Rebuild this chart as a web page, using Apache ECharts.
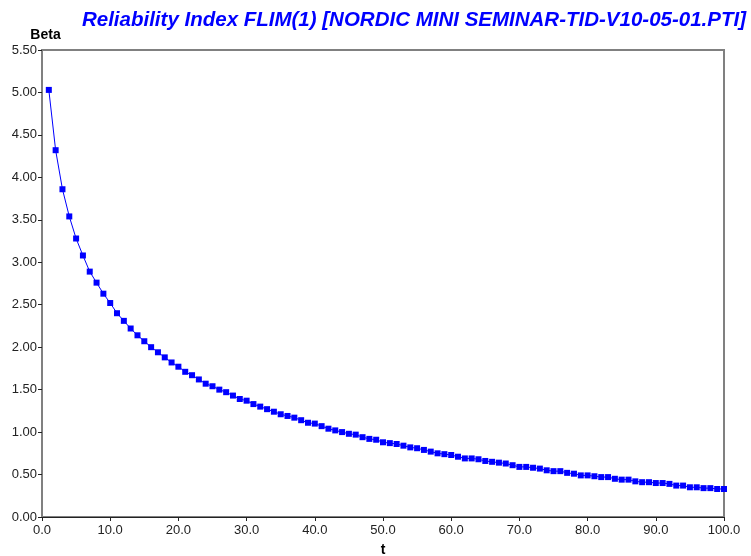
<!DOCTYPE html>
<html>
<head>
<meta charset="utf-8">
<script src="https://cdn.jsdelivr.net/npm/echarts@6/dist/echarts.min.js"></script>
<style>html,body{margin:0;padding:0;background:#fff;}#c{width:751px;height:556px;}</style>
</head>
<body>
<div id="c"></div>
<script>
const titleText = "Reliability Index FLIM(1) [NORDIC MINI SEMINAR-TID-V10-05-01.PTI]";
const xName = "t";
const yName = "Beta";
const tValues = [];
for (let i = 1; i <= 100; i++) tValues.push(i);
const betaValues = [
  5.03, 4.32, 3.86, 3.54, 3.28, 3.08, 2.89, 2.76, 2.63, 2.52,
  2.40, 2.31, 2.22, 2.14, 2.07, 2.00, 1.94, 1.88, 1.82, 1.77,
  1.71, 1.67, 1.62, 1.57, 1.54, 1.50, 1.47, 1.43, 1.39, 1.37,
  1.33, 1.30, 1.27, 1.24, 1.21, 1.19, 1.17, 1.14, 1.11, 1.10,
  1.07, 1.04, 1.02, 1.00, 0.98, 0.97, 0.94, 0.92, 0.91, 0.88,
  0.87, 0.86, 0.84, 0.82, 0.81, 0.79, 0.77, 0.75, 0.74, 0.73,
  0.71, 0.69, 0.69, 0.68, 0.66, 0.65, 0.64, 0.63, 0.61, 0.59,
  0.59, 0.58, 0.57, 0.55, 0.54, 0.54, 0.52, 0.51, 0.49, 0.49,
  0.48, 0.47, 0.47, 0.45, 0.44, 0.44, 0.42, 0.41, 0.41, 0.40,
  0.40, 0.39, 0.37, 0.37, 0.35, 0.35, 0.34, 0.34, 0.33, 0.33
];
const data = tValues.map((t, i) => [t, betaValues[i]]);

const chart = echarts.init(document.getElementById('c'), null, {renderer: 'canvas'});
chart.setOption({
  animation: false,
  backgroundColor: '#ffffff',
  textStyle: {fontFamily: 'Liberation Sans, Arial, sans-serif'},
  title: {
    text: titleText,
    right: 0, top: 5,
    textStyle: {color: '#0000ff', fontSize: 20.5, fontWeight: 'bold', fontStyle: 'italic', fontFamily: 'Liberation Sans, Arial, sans-serif'}
  },
  grid: {left: 42, right: 27, top: 50, bottom: 39, show: true, borderColor: '#808080', borderWidth: 2, containLabel: false, outerBoundsMode: 'none'},
  xAxis: {
    type: 'value', min: 0, max: 100, interval: 10,
    name: xName, nameLocation: 'middle', nameGap: 26,
    nameTextStyle: {fontWeight: 'bold', fontSize: 14, color: '#000'},
    axisLine: {show: true, lineStyle: {color: '#222', width: 1}},
    axisTick: {show: true, length: 4, lineStyle: {color: '#222'}},
    axisLabel: {color: '#222', fontSize: 13, margin: 7, formatter: v => v.toFixed(1)},
    splitLine: {show: false}
  },
  yAxis: {
    type: 'value', min: 0, max: 5.5, interval: 0.5,
    name: yName, nameLocation: 'end', nameGap: 8,
    nameTextStyle: {fontWeight: 'bold', fontSize: 14, color: '#000', align: 'center', padding: [0, 0, 0, 7]},
    axisLine: {show: true, lineStyle: {color: '#808080', width: 2}},
    axisTick: {show: true, length: 4, lineStyle: {color: '#222'}},
    axisLabel: {color: '#222', fontSize: 13, margin: 5, formatter: v => v.toFixed(2)},
    splitLine: {show: false}
  },
  series: [{
    type: 'line',
    data: data,
    symbol: 'rect',
    symbolSize: 6,
    lineStyle: {color: '#0000ff', width: 1},
    itemStyle: {color: '#0000ff'},
    showSymbol: true
  }]
});
</script>
</body>
</html>
